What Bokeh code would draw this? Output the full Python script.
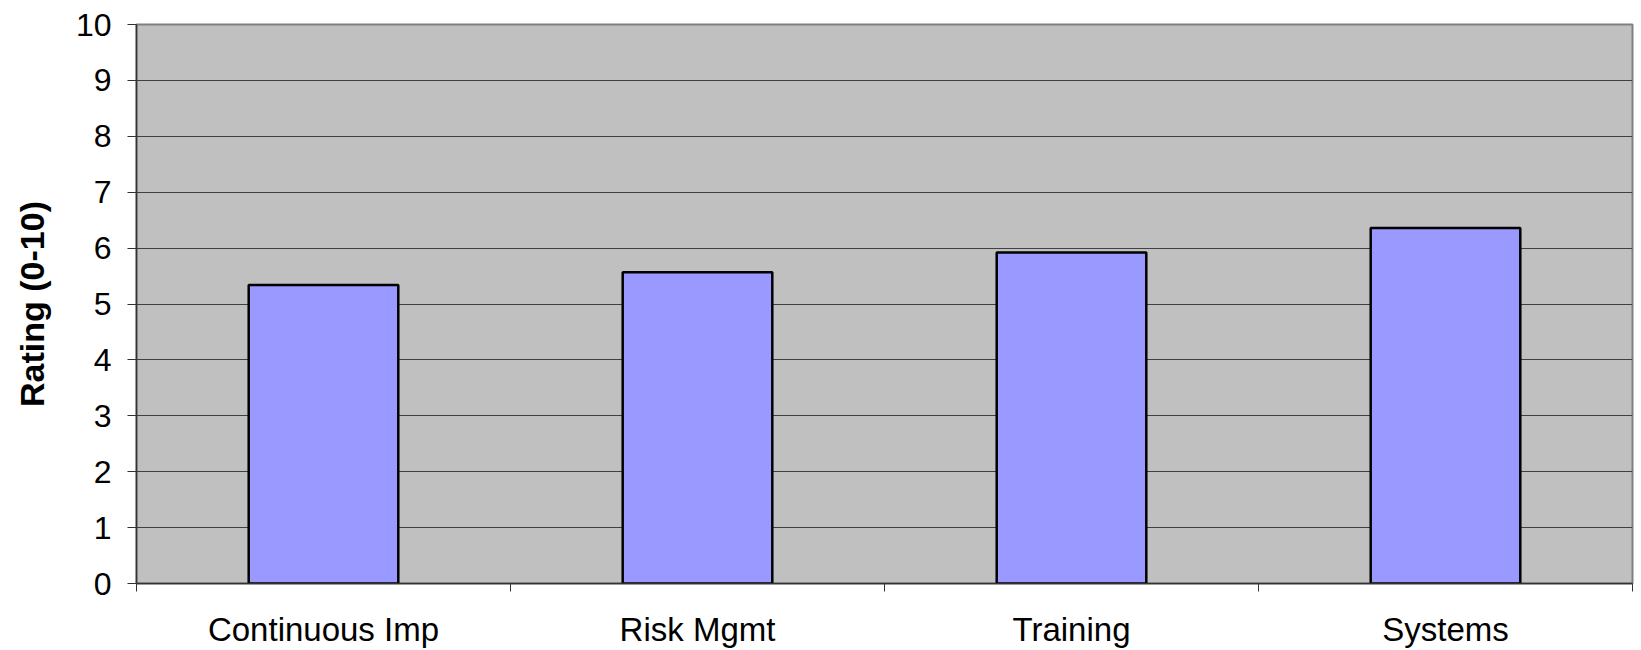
from bokeh.plotting import figure
from bokeh.models import Range1d, FixedTicker, LinearAxis
from bokeh.embed import file_html
from bokeh.resources import INLINE

# Ratings per area (0-10 scale)
categories = ["Continuous Imp", "Risk Mgmt", "Training", "Systems"]
ratings = [5.34, 5.57, 5.92, 6.36]
y_ticks = list(range(0, 11))

FONT = "Liberation Sans"

# each category occupies one unit slot; bars sit at slot centres
n = len(categories)
centres = [i + 0.5 for i in range(n)]
edges = list(range(n + 1))

p = figure(
    x_range=Range1d(0, n),
    y_range=Range1d(0, 10),
    width=1641, height=650,
    output_backend="svg",
    toolbar_location=None,
    x_axis_location=None,
    y_axis_location=None,
    min_border_left=136, min_border_right=9,
    min_border_top=24, min_border_bottom=67,
    background_fill_color="#C0C0C0",
    border_fill_color="white",
    outline_line_color="#808080",
    outline_line_width=2,
)

p.vbar(x=centres, top=ratings, width=0.4,
       fill_color="#9999FF", line_color="black", line_width=2.5)

# horizontal gridlines
p.xgrid.visible = False
p.ygrid.ticker = FixedTicker(ticks=y_ticks)
p.ygrid.grid_line_color = "#404040"
p.ygrid.grid_line_width = 1

# y axis
yaxis = LinearAxis(
    ticker=FixedTicker(ticks=y_ticks),
    axis_label="Rating (0-10)",
    axis_label_text_font=FONT,
    axis_label_text_font_size="34px",
    axis_label_text_font_style="bold",
    axis_label_text_color="black",
    axis_label_standoff=22,
    major_label_text_font=FONT,
    major_label_text_font_size="32px",
    major_label_text_color="black",
    major_label_standoff=16,
    major_tick_in=0, major_tick_out=9,
    major_tick_line_color="#333333",
    minor_tick_line_color=None,
    axis_line_color="#333333",
    axis_line_width=1.5,
)
p.add_layout(yaxis, "left")

# category names at slot centres, tick marks on the slot boundaries
xaxis = LinearAxis(
    ticker=FixedTicker(ticks=centres, minor_ticks=edges),
    major_label_overrides={c: name for c, name in zip(centres, categories)},
    major_label_text_font=FONT,
    major_label_text_font_size="33px",
    major_label_text_color="black",
    major_label_standoff=19,
    major_tick_in=0, major_tick_out=8,
    major_tick_line_color=None,
    minor_tick_in=0, minor_tick_out=8,
    minor_tick_line_color="#333333",
    minor_tick_line_width=1,
    axis_line_color="#333333",
    axis_line_width=1.5,
)
p.add_layout(xaxis, "below")

open("out.html", "w").write(file_html(p, INLINE))
